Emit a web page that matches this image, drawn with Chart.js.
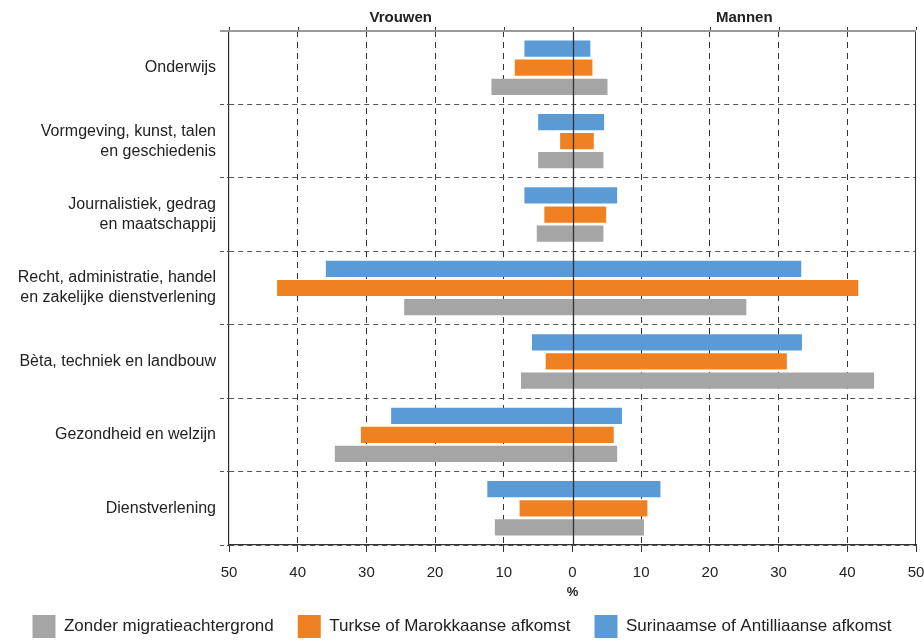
<!DOCTYPE html>
<html>
<head>
<meta charset="utf-8">
<script src="https://cdn.jsdelivr.net/npm/chart.js@4"></script>
<style>
  html, body { margin: 0; padding: 0; background: #fff; }
  #wrap { width: 924px; height: 641px; position: relative; }
</style>
</head>
<body>
<div id="wrap"><canvas id="c"></canvas></div>
<script>
const categories = [
  "Onderwijs",
  ["Vormgeving, kunst, talen", "en geschiedenis"],
  ["Journalistiek, gedrag", "en maatschappij"],
  ["Recht, administratie, handel", "en zakelijke dienstverlening"],
  "Bèta, techniek en landbouw",
  "Gezondheid en welzijn",
  "Dienstverlening"
];
const seriesNames = ["Surinaamse of Antilliaanse afkomst", "Turkse of Marokkaanse afkomst", "Zonder migratieachtergrond"];
const vrouwenSurinaams = [7.0, 5.0, 7.0, 35.9, 5.9, 26.4, 12.4];
const mannenSurinaams  = [2.6, 4.6, 6.5, 33.3, 33.4, 7.2, 12.8];
const vrouwenTurks     = [8.4, 1.8, 4.1, 43.0, 3.9, 30.8, 7.7];
const mannenTurks      = [2.9, 3.1, 4.9, 41.6, 31.2, 6.0, 10.9];
const vrouwenZonder    = [11.8, 5.0, 5.2, 24.5, 7.5, 34.6, 11.3];
const mannenZonder     = [5.1, 4.5, 4.5, 25.3, 43.9, 6.5, 10.4];
const xTicks = [-50, -40, -30, -20, -10, 0, 10, 20, 30, 40, 50];
const sideLabels = ["Vrouwen", "Mannen"];

const FONT = "'Liberation Sans', Arial, sans-serif";
const pair = (v, m) => v.map((x, i) => [-x, m[i]]);

const overlay = {
  id: 'overlay',
  afterDatasetsDraw(chart) {
    const {ctx, chartArea: a, scales: {x}} = chart;
    ctx.save();
    ctx.strokeStyle = '#333';
    ctx.lineWidth = 1.3;
    const x0 = Math.round(x.getPixelForValue(0)) + 0.5;
    ctx.beginPath(); ctx.moveTo(x0, a.top); ctx.lineTo(x0, a.bottom); ctx.stroke();
    ctx.lineWidth = 1;
    const xr = Math.round(a.right) - 0.5;
    ctx.beginPath(); ctx.moveTo(xr, a.top); ctx.lineTo(xr, a.bottom); ctx.stroke();
    ctx.strokeStyle = '#9a9a9a';
    ctx.lineWidth = 2;
    ctx.beginPath(); ctx.moveTo(a.left - 9, a.top); ctx.lineTo(a.right, a.top); ctx.stroke();
    ctx.strokeStyle = '#333';
    ctx.lineWidth = 1;
    xTicks.forEach(v => {
      const px = Math.round(x.getPixelForValue(v)) + 0.5;
      ctx.beginPath(); ctx.moveTo(px, a.top - 4); ctx.lineTo(px, a.top - 1); ctx.stroke();
    });
    ctx.fillStyle = '#222';
    ctx.font = "bold 15px " + FONT;
    ctx.textAlign = 'center';
    ctx.textBaseline = 'middle';
    ctx.fillText(sideLabels[0], x.getPixelForValue(-25), 18);
    ctx.fillText(sideLabels[1], x.getPixelForValue(25), 18);
    ctx.restore();
  }
};

new Chart(document.getElementById('c'), {
  type: 'bar',
  data: {
    labels: categories,
    datasets: [
      { label: seriesNames[0], data: pair(vrouwenSurinaams, mannenSurinaams), backgroundColor: '#5B9BD5' },
      { label: seriesNames[1], data: pair(vrouwenTurks, mannenTurks), backgroundColor: '#F08123' },
      { label: seriesNames[2], data: pair(vrouwenZonder, mannenZonder), backgroundColor: '#A5A5A5' }
    ]
  },
  options: {
    indexAxis: 'y',
    responsive: true,
    maintainAspectRatio: false,
    animation: false,
    layout: { padding: { top: 31, left: 0, right: 0, bottom: -7 } },
    datasets: { bar: { categoryPercentage: 0.78, barPercentage: 0.85, borderSkipped: false } },
    plugins: {
      tooltip: { enabled: false },
      legend: {
        position: 'bottom',
        reverse: true,
        labels: {
          boxWidth: 23, boxHeight: 23, padding: 24,
          color: '#222',
          font: { family: FONT, size: 17 }
        }
      }
    },
    scales: {
      x: {
        min: -50, max: 50,
        afterBuildTicks(s) { s.ticks = xTicks.map(v => ({ value: v })); },
        afterFit(s) { s.height = 46; s.paddingRight = 8; },
        ticks: {
          callback: v => String(Math.abs(v)),
          color: '#222',
          padding: 12,
          font: { family: FONT, size: 15 }
        },
        grid: {
          color: c => (c.tick && (c.tick.value === 0 || Math.abs(c.tick.value) === 50)) ? 'rgba(0,0,0,0)' : '#333',
          lineWidth: 1,
          drawTicks: true,
          tickLength: 7,
          tickColor: '#333',
          tickBorderDash: []
        },
        border: { display: true, color: '#333', width: 1.2, dash: [6, 5] },
        title: {
          display: true, text: '%', color: '#222',
          font: { family: FONT, size: 13, weight: 'bold' },
          padding: { top: 0, bottom: -9 }
        }
      },
      y: {
        afterFit(s) { s.width = 229; },
        ticks: {
          color: '#222',
          padding: 4,
          font: { family: FONT, size: 16, lineHeight: 1.25 }
        },
        grid: {
          color: '#555',
          lineWidth: 1,
          offset: true,
          drawTicks: true,
          tickLength: 9,
          tickColor: '#555',
          tickBorderDash: [4, 3]
        },
        border: { display: true, color: '#333', width: 1.2, dash: [5, 4] }
      }
    }
  },
  plugins: [overlay]
});
</script>
</body>
</html>
